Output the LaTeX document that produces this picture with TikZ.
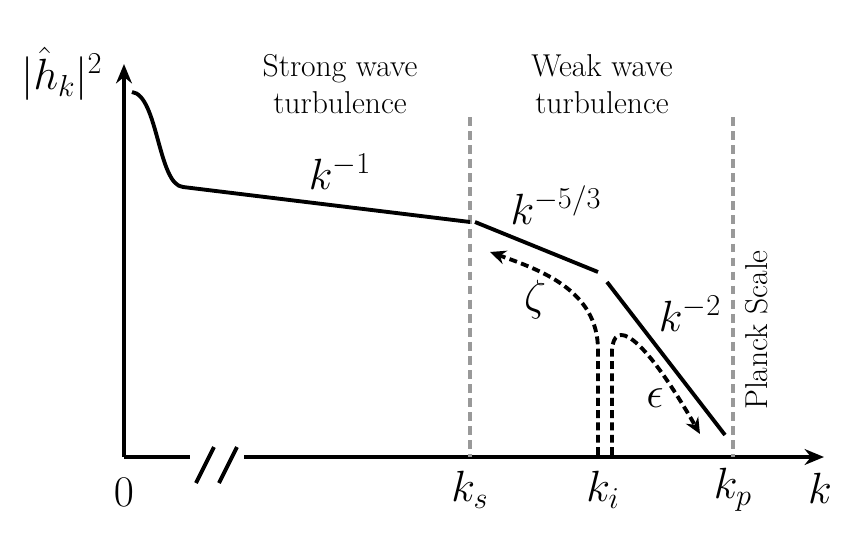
\documentclass[tikz,border=0pt]{standalone}
\usetikzlibrary{arrows.meta}
\begin{document}
\begin{tikzpicture}[x=0.02cm,y=-0.02cm,
  ax/.style={line width=2.2pt,-{Stealth[length=11pt,width=9pt]}},
  curve/.style={line width=2.2pt},
  grid/.style={gray!80,line width=2.2pt,dash pattern=on 5pt off 3pt},
  flow/.style={line width=2.2pt,dash pattern=on 4.5pt off 2.5pt,-{Stealth[length=9pt,width=8pt]}},
  txt/.style={font=\fontsize{18}{21}\selectfont,align=center},
  mth/.style={font=\fontsize{24}{28}\selectfont}]
\useasboundingbox (0,0) rectangle (860,551);
\coordinate (o) at (124,457);
\coordinate (ytop) at (124,64);
\coordinate (xend) at (824,457);
\coordinate (b1) at (190,457);
\coordinate (b2) at (244,457);
\draw[line width=2.2pt] (o) -- (b1);
\draw[ax] (o) -- (ytop);
\draw[ax] (b2) -- (xend);
\draw[line width=2.2pt] (196,483) -- (214,447) (219,483) -- (237,447);
\draw[grid] (470,117) -- (470,457);
\draw[grid] (733,117) -- (733,457);
\draw[curve] (132,92) .. controls (158,95) and (158,185) .. (183,187) -- (470,222);
\draw[curve] (475,222) -- (598,272);
\draw[curve] (607,282) -- (725,435);
\draw[flow] (598,455) -- (598,350) .. controls (598,290) and (540,270) .. (490,252);
\draw[flow] (612,455) -- (612,350) .. controls (614,320) and (640,330) .. (700,434);
\node[txt] (s) at (340,84) {Strong wave\\turbulence};
\node[txt] (w) at (602,84) {Weak wave\\turbulence};
\node[mth] (k1) at (340,172) {$k^{-1}$};
\node[mth] (k53) at (556,205) {$k^{-5/3}$};
\node[mth] (k2) at (690,314) {$k^{-2}$};
\node[mth] (z) at (535,300) {$\zeta$};
\node[mth] (e) at (655,398) {$\epsilon$};
\node[txt,rotate=90] (p) at (757,330) {Planck Scale};
\node[mth] (zero) at (124,492) {$0$};
\node[mth] (ks) at (470,490) {$k_s$};
\node[mth] (ki) at (603,490) {$k_i$};
\node[mth] (kp) at (733,490) {$k_p$};
\node[mth] (k) at (820,488) {$k$};
\node[mth] (h) at (62,74) {$|\hat h_k|^2$};
\end{tikzpicture}
\end{document}
